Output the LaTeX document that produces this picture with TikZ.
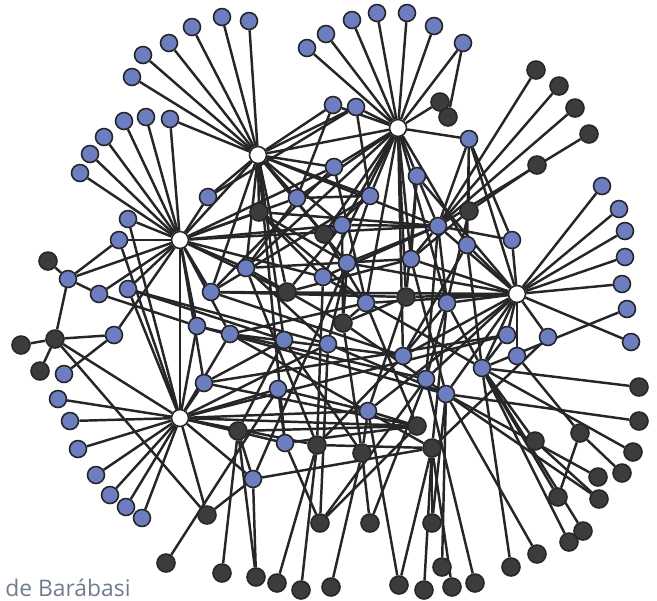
\documentclass[tikz,border=0pt]{standalone}
\usepackage{fontspec}
\setsansfont{Open Sans}
\usetikzlibrary{backgrounds}

\definecolor{netblue}{RGB}{108,126,192}
\definecolor{netdark}{RGB}{60,60,62}
\definecolor{netline}{RGB}{38,38,40}
\definecolor{captiongray}{RGB}{112,124,142}

\begin{document}
\begin{tikzpicture}[
  x=0.02cm, y=-0.02cm,
  vertex/.style={circle, draw=netline, line width=0.9pt, minimum size=3.4mm, inner sep=0pt},
  hubnode/.style={vertex, fill=white},
  bluenode/.style={vertex, fill=netblue},
  darknode/.style={vertex, fill=netdark, minimum size=3.6mm},
  link/.style={draw=netline, line width=1.4pt},
  caption/.style={font=\sffamily\fontsize{13}{15}\selectfont, text=captiongray, inner sep=0pt}
]
\useasboundingbox (0,0) rectangle (657,600);

% hubs
\foreach \n/\x/\y in {h1/258/155, h2/398/128, h3/180/240, h4/517/294, h5/180/418}
  \node[hubnode] (\n) at (\x,\y) {};

% blue vertices
\foreach \n/\x/\y in {b1/222/17, b2/249/21, b3/192/27, b4/169/43, b5/143/55, b6/132/77,
    b7/124/121, b8/146/117, b9/170/119, b10/104/137, b11/90/154, b12/80/173,
    b13/307/48, b14/326/34, b15/352/20, b16/377/13, b17/407/13, b18/434/26, b19/463/43,
    b20/333/105, b21/356/107, b22/469/139, b23/417/176, b24/334/167, b25/208/197,
    b26/297/198, b27/370/196, b29/342/225, b30/438/226, b31/246/268, b32/323/277,
    b33/347/263, b34/411/259, b35/366/303, b36/211/292, b37/197/326, b38/467/245,
    b39/512/240, b40/447/303, b41/128/219, b42/119/240, b43/68/279, b44/99/294,
    b45/128/289, b46/114/335, b47/64/374, b48/58/399, b49/204/383, b50/230/334,
    b51/284/340, b52/328/344, b53/278/389, b54/403/356, b55/426/379, b56/446/394,
    b57/368/411, b58/285/443, b59/253/479, b61/602/186, b62/619/209, b63/625/231,
    b64/625/257, b65/622/284, b66/627/309, b67/631/342, b68/507/335, b69/548/337,
    b70/517/356, b71/482/368, b73/70/421, b74/78/449, b75/96/475, b76/110/495,
    b77/126/507, b78/142/518}
  \node[bluenode] (\n) at (\x,\y) {};

% dark vertices
\foreach \n/\x/\y in {d1/440/102, d2/448/117, d3/536/70, d4/559/86, d5/575/108, d6/589/134,
    d7/537/165, d8/259/212, d9/324/234, d10/287/292, d11/406/297, d12/343/323,
    d13/469/211, d14/48/261, d15/55/339, d16/21/345, d17/40/371, d18/238/431,
    d19/317/445, d20/362/453, d21/417/426, d22/432/448, d23/207/515, d24/320/523,
    d25/370/523, d26/432/523, d28/639/387, d29/639/421, d30/633/452, d31/580/433,
    d32/535/441, d33/598/477, d34/622/473, d35/558/497, d36/599/499, d37/583/531,
    d38/569/542, d39/537/554, d40/511/567, d41/442/567, d42/452/587, d43/475/583,
    d44/424/590, d45/399/585, d46/331/587, d47/301/590, d48/277/583, d49/256/577,
    d50/222/573, d51/166/563}
  \node[darknode] (\n) at (\x,\y) {};

\node[caption, anchor=base west] (credit) at (5,596) {de Barábasi};

\begin{scope}[on background layer]
  % hub links
  \foreach \b in {b1,b2,b3,b4,b5,b6,b9,b20,h2,b24,b27,b25,h3,b31,b26,d9,b36,d10,b33,d8,b30,b51,b58,b29,b21}
    \draw[link] (h1) -- (\b);
  \foreach \b in {b13,b14,b15,b16,b17,b18,b19,b20,b21,d1,b22,b23,b24,b27,b29,b34,b38,b26,b35,d11,b40,b32,b54,d9,b31}
    \draw[link] (h2) -- (\b);
  \foreach \b in {b7,b8,b9,b10,b11,b12,b41,b42,b43,b44,b45,b46,b25,d8,b31,b36,b37,b26,h5,b50,b49,b29,d10,b32,b30,b24}
    \draw[link] (h3) -- (\b);
  \foreach \b in {b61,b62,b63,b64,b65,b67,b39,b38,b30,b34,b40,b68,b69,b70,b55,b56,b54,d11,b33,b35,b23,b57,b71,b22,b36}
    \draw[link] (h4) -- (\b);
  \foreach \b in {b48,b73,b74,b75,b76,b77,b78,b41,b42,b45,d15,d18,b49,b53,b58,d19,b37,b50,d23,b59,b57,b52,d21,b68}
    \draw[link] (h5) -- (\b);
  % other links
  \foreach \a/\b in {b21/b25, b21/b27, b20/b26, b19/d2, b22/b39, b22/b30, b22/d13, b22/b38,
      b23/b34, b23/d11, b23/b30, d3/b30, d4/b30, d5/b30, d6/b30, d7/d13, d13/b40, d13/b34,
      b30/b29, b30/b34, b30/b33, b30/d8, b30/b32, b30/b40, b30/b55, b39/b30, b38/b71, b38/b54,
      b40/b55, b40/b71, b40/d22, b40/b54, d11/b57, d11/d12, d11/b36, b34/d10, b34/b31, b34/b56,
      b33/b52, b33/d12, b33/b59, b32/d19, b32/b71, b35/d12, b35/b50, b35/d21, d12/d20, d12/b29,
      d12/b56, d9/b29, d9/b27, d9/b35, b29/d10, b26/b27, b26/b31, b24/b36, b24/b35, b27/b36,
      b27/b33, d8/b33, d8/b35, d8/b32, b31/d12, b31/b52, b31/d19, b36/b54, b37/b44, b37/b55,
      b37/b56, b50/b54, b50/d22, b51/b49, b51/d20, b51/b45, b51/d18, b52/d24, b52/b45, b52/b56,
      b53/d51, b53/b57, b54/d19, b55/d25, b57/d20, b57/d21, b57/d45, b58/d21, b58/b53, b58/d24,
      b59/d49, b59/d22, b59/d18, b49/d21, b68/b71, b68/b49, b69/d22, b70/d31, b71/d28, b71/d30,
      b71/d32, b71/d35, b71/d37, b71/d38, b71/d40, b71/b66, b56/d29, b56/d33, b56/d36, b56/d39,
      b56/d41, d31/d35, d31/d34, d32/d36, b55/d43, d18/d21, d18/d50, d18/d49, d19/d48, d19/d47,
      d19/d22, d20/d46, d20/d25, d22/d26, d22/d44, d22/d42, d22/d45, d23/d15, d23/b59, d24/b55,
      d24/d21, d26/b56, d14/b43, d15/d16, d15/d17, d15/b43, d15/b46, b43/b44, b43/b42, b46/b47}
    \draw[link] (\a) -- (\b);
\end{scope}
\end{tikzpicture}
\end{document}
